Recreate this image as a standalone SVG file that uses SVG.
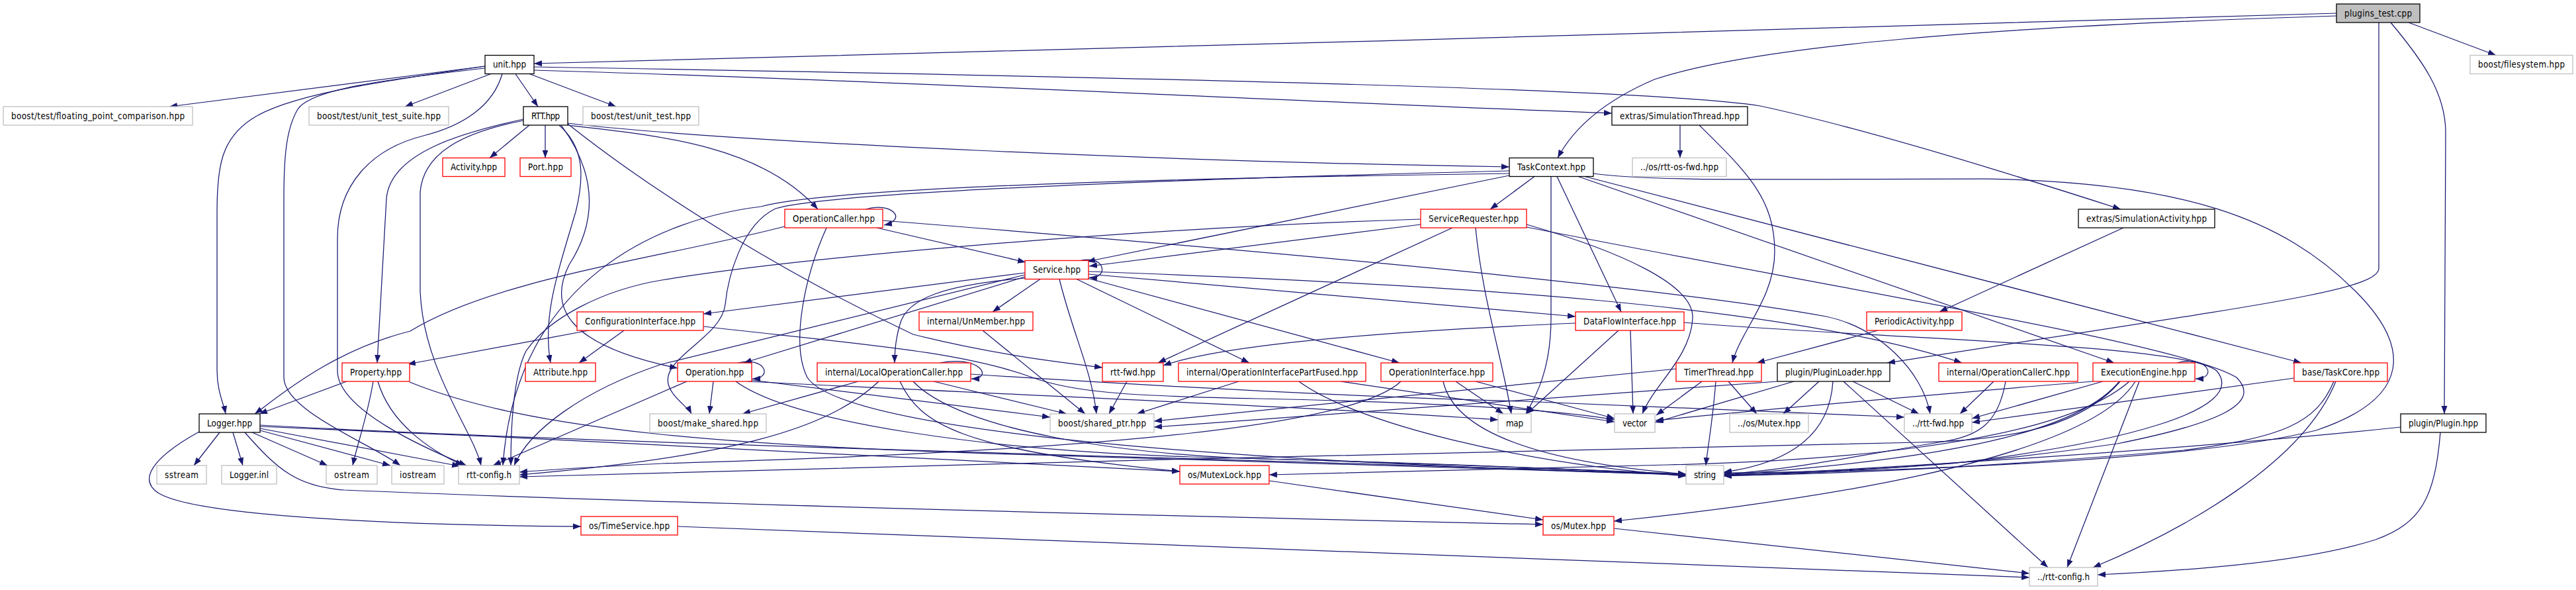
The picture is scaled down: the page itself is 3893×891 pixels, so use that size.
<svg xmlns="http://www.w3.org/2000/svg" width="3893" height="891" viewBox="0 0 3893 891">
<defs>
<marker id="ah" markerUnits="userSpaceOnUse" markerWidth="13" markerHeight="10" refX="12" refY="5" orient="auto"><path d="M0,0.5 L12,5 L0,9.5 z" fill="#191970"/></marker>
<style>
.e{fill:none;stroke:#191970;stroke-width:1.25;marker-end:url(#ah)}
rect{fill:#fff;stroke-width:1.3}
.root{fill:#bfbfbf;stroke:#000}
.doc{stroke:#000}
.tr{stroke:#ff0000}
.ex{stroke:#bfbfbf}
text{font-family:'DejaVu Sans Condensed','DejaVu Sans','Liberation Sans',sans-serif;font-stretch:condensed;font-size:13.3px;text-anchor:middle;fill:#000}
</style>
</defs>
<rect x="0" y="0" width="3893" height="891" style="fill:#fff;stroke:none"/>
<g id="connectors">
<path class="e" d="M3531,20 C3000,35 1500,80 807,96"/>
<path class="e" d="M3531,24 C3000,40 2650,70 2500,120 C2430,150 2380,190 2354,238.5"/>
<path class="e" d="M3640,34 L3772,83.5"/>
<path class="e" d="M3595,34 L3595,405 C3595,440 3400,462 2852,548"/>
<path class="e" d="M3613,34 C3660,90 3696,140 3696,200 L3694,625"/>
<path class="e" d="M733,100 L256,161"/>
<path class="e" d="M742,111.5 L612,161"/>
<path class="e" d="M779,111.5 L813,161"/>
<path class="e" d="M800,111.5 L931,161"/>
<path class="e" d="M807,106 C1300,120 2000,155 2436,171"/>
<path class="e" d="M807,101 C1800,118 2500,135 2660,160 C2800,190 3000,250 3205,316"/>
<path class="e" d="M733,100 C600,120 440,140 380,180 C335,210 328,250 328,320 L328,560 C328,590 338,610 341,625"/>
<path class="e" d="M733,103 C580,120 470,135 450,165 C432,195 429,240 429,300 L429,570 C429,620 560,670 605,703"/>
<path class="e" d="M759,111.5 C745,160 700,190 640,205 C560,225 510,280 510,360 L510,560 C510,620 650,680 705,703"/>
<path class="e" d="M800,189 L740,238.5"/>
<path class="e" d="M824,189 L824,238.5"/>
<path class="e" d="M791,180 C700,200 590,230 584,300 L570,548"/>
<path class="e" d="M791,182 C700,200 640,230 635,290 L635,440 C640,560 715,650 727,703"/>
<path class="e" d="M845,189 C880,220 885,260 870,320 C840,420 820,480 832,548"/>
<path class="e" d="M848,189 C900,260 905,330 860,400 C830,460 850,520 1024,556"/>
<path class="e" d="M858,187 C1000,300 1200,420 1380,505 C1500,535 1600,547 1666,555"/>
<path class="e" d="M858,186 C1100,215 1800,245 2281,252"/>
<path class="e" d="M858,189 C1000,205 1150,220 1236,316"/>
<path class="e" d="M2539,189 L2539,238.5"/>
<path class="e" d="M2568,189 C2640,260 2682,300 2682,380 C2682,450 2630,500 2618,548"/>
<path class="e" d="M2319,266.5 L2252,316"/>
<path class="e" d="M2281,265 L1643,395"/>
<path class="e" d="M2281,258 C1800,270 1250,290 1172,315 C1120,340 1100,420 1096,460 C1090,510 1000,540 1010,580 C1015,600 1040,615 1045,625"/>
<path class="e" d="M2281,262 C1700,270 1250,285 1150,312 C1000,330 780,420 760,703"/>
<path class="e" d="M2344,266.5 L2344,480 C2344,560 2320,600 2306,625"/>
<path class="e" d="M2353,266.5 L2450,471"/>
<path class="e" d="M2408,262 C2500,275 2700,270 3000,270 C3300,275 3450,330 3560,440 C3640,520 3650,600 3500,650 C3300,700 2800,712 2605,717"/>
<path class="e" d="M2395,266.5 L3478,548"/>
<path class="e" d="M2385,266.5 L3195,548"/>
<path class="e" d="M2147,339 L1646,402"/>
<path class="e" d="M2147,331 C1700,345 1200,390 1000,423 C910,438 830,480 795,530 C775,570 772,650 772,703"/>
<path class="e" d="M2195,344 L1750,548"/>
<path class="e" d="M2230,344 C2240,450 2270,540 2284,625"/>
<path class="e" d="M2307,339 C2450,380 2560,430 2558,480 C2555,540 2500,580 2482,625"/>
<path class="e" d="M2307,343 C2800,440 3300,520 3380,570 C3420,610 3350,640 3200,670 C3000,700 2800,714 2605,714"/>
<path class="e" d="M1308,316 C1348,304 1372,332 1336,340"/>
<path class="e" d="M1325,344 L1550,396"/>
<path class="e" d="M1186,342 C1000,390 750,420 620,500 C500,530 420,600 385,625"/>
<path class="e" d="M1249,344 C1215,420 1195,520 1220,570 C1260,630 1600,690 2548,717"/>
<path class="e" d="M1334,333 C1800,370 2500,430 2760,478 C2840,495 2905,560 2917,625"/>
<path class="e" d="M1630,394 C1672,383 1676,422 1646,419"/>
<path class="e" d="M1549,412 L1063,474"/>
<path class="e" d="M1549,415 L1000,550 C880,590 800,650 777,703"/>
<path class="e" d="M1549,418 L1124,548"/>
<path class="e" d="M1549,420 C1430,430 1370,450 1360,490 C1354,510 1352,530 1352,548"/>
<path class="e" d="M1572,421.5 L1500,471"/>
<path class="e" d="M1601,421.5 C1620,500 1650,560 1657,625"/>
<path class="e" d="M1627,421.5 L1888,548"/>
<path class="e" d="M1643,420 L2115,548"/>
<path class="e" d="M1645,414 L2381,478"/>
<path class="e" d="M1645,410 C2200,430 2700,460 2965,548"/>
<path class="e" d="M890,499 L616,550"/>
<path class="e" d="M943,499 L875,548"/>
<path class="e" d="M1063,493 C1300,520 1450,530 1560,570 C1620,592 1700,598 1900,602 C2150,607 2350,618 2440,634"/>
<path class="e" d="M1485,499 L1640,625"/>
<path class="e" d="M2381,488 C2100,500 1850,520 1758,552"/>
<path class="e" d="M2446,499 L2307,625"/>
<path class="e" d="M2464,499 L2468,625"/>
<path class="e" d="M2545,487 C2900,515 3300,520 3350,560 C3400,620 3200,670 2950,700 C2800,712 2700,716 2605,719"/>
<path class="e" d="M2838,499 L2655,548"/>
<path class="e" d="M524,576 L392,625"/>
<path class="e" d="M564,576 C555,630 540,670 533,703"/>
<path class="e" d="M571,576 C590,640 650,680 700,703"/>
<path class="e" d="M619,577 C800,650 1100,675 1600,688 C2000,698 2400,712 2548,717"/>
<path class="e" d="M1115,548 C1158,538 1168,572 1137,572"/>
<path class="e" d="M1078,576 L1072,625"/>
<path class="e" d="M1038,576 L745,703"/>
<path class="e" d="M1136,574 L1587,630"/>
<path class="e" d="M1112,576 C1200,640 1500,680 1800,690 C2200,700 2450,712 2548,717"/>
<path class="e" d="M1130,576 C1500,595 2000,615 2264,634"/>
<path class="e" d="M1420,548 C1482,536 1502,572 1468,572"/>
<path class="e" d="M1297,576 L1122,625"/>
<path class="e" d="M1328,576 C1250,650 1100,690 785,717"/>
<path class="e" d="M1411,576 L1612,625"/>
<path class="e" d="M1360,576 C1390,640 1450,680 1783,712"/>
<path class="e" d="M1380,576 C1450,650 1700,690 1950,694 C2250,703 2450,712 2548,716"/>
<path class="e" d="M1467,565 C1700,580 2000,598 2300,606 L2878,630"/>
<path class="e" d="M1703,576 L1676,625"/>
<path class="e" d="M1872,576 L1718,625"/>
<path class="e" d="M1963,576 C2050,640 2300,700 2548,719"/>
<path class="e" d="M2026,576 L2440,637"/>
<path class="e" d="M2200,576 L2272,625"/>
<path class="e" d="M2230,576 L2440,632"/>
<path class="e" d="M2181,576 C2200,660 2350,700 2548,716"/>
<path class="e" d="M2117,576 C2050,640 1700,680 1000,700 C900,705 820,710 785,713"/>
<path class="e" d="M2533,557 L1744,636"/>
<path class="e" d="M2572,576 L2503,627"/>
<path class="e" d="M2593,576 C2588,640 2580,680 2578,703"/>
<path class="e" d="M2612,576 L2655,625"/>
<path class="e" d="M2686,576 L1744,645"/>
<path class="e" d="M2711,576 L2501,638"/>
<path class="e" d="M2749,576 L2695,625"/>
<path class="e" d="M2770,576 C2765,660 2700,700 2605,713"/>
<path class="e" d="M2800,576 L2900,625"/>
<path class="e" d="M2786,576 L3095,857"/>
<path class="e" d="M3013,576 L2962,625"/>
<path class="e" d="M3031,576 C3020,640 2990,660 2930,668 C2800,690 2700,710 2605,716"/>
<path class="e" d="M3290,548 C3338,536 3352,572 3318,572"/>
<path class="e" d="M3178,576 L2980,632"/>
<path class="e" d="M3163,576 C3050,585 2700,615 2502,635"/>
<path class="e" d="M3203,576 C3150,640 3000,690 2605,717"/>
<path class="e" d="M3218,576 C3100,680 2700,698 2520,702 L1918,717"/>
<path class="e" d="M3227,576 C3150,700 2700,760 2439,787"/>
<path class="e" d="M3204,576 C3150,640 3050,665 2900,668 C2600,672 1300,705 785,720"/>
<path class="e" d="M3233,576 L3124,857"/>
<path class="e" d="M3467,571 L2980,638"/>
<path class="e" d="M3527,576 C3500,640 3450,660 3300,680 C3000,705 2800,716 2605,718"/>
<path class="e" d="M3530,576 C3480,700 3300,800 3163,857"/>
<path class="e" d="M3628,645 C3300,680 2800,710 2605,718"/>
<path class="e" d="M3688,653 C3680,750 3660,790 3590,815 C3480,850 3300,862 3170,868"/>
<path class="e" d="M332,653 L293,703"/>
<path class="e" d="M352,653 L367,703"/>
<path class="e" d="M381,653 L495,703"/>
<path class="e" d="M393,650 L590,703"/>
<path class="e" d="M393,647 L695,704"/>
<path class="e" d="M301,652 C250,680 200,720 240,745 C300,780 600,793 878,795"/>
<path class="e" d="M370,653 C420,710 450,735 520,740 C1000,760 1800,780 2332,792"/>
<path class="e" d="M393,642 C1000,675 2000,695 2548,717"/>
<path class="e" d="M393,644 C900,665 1500,695 1783,712"/>
<path class="e" d="M1024,795 L3067,872"/>
<path class="e" d="M2439,798 L3067,866"/>
<path class="e" d="M1918,726 L2332,785"/>
<path class="e" d="M3209,344 L2931,471"/>
</g>
<g id="n-plugins_test"><rect class="root" x="3531" y="6" width="126" height="28"/><text x="3594" y="24.5" textLength="102">plugins_test.cpp</text></g>
<g id="n-unit"><rect class="doc" x="733" y="83.5" width="74" height="28"/><text x="770" y="102" textLength="50">unit.hpp</text></g>
<g id="n-filesystem"><rect class="ex" x="3733" y="83.5" width="155" height="28"/><text x="3810.5" y="102" textLength="131">boost/filesystem.hpp</text></g>
<g id="n-floating"><rect class="ex" x="5" y="161" width="286" height="28"/><text x="148" y="179.5" textLength="262">boost/test/floating_point_comparison.hpp</text></g>
<g id="n-suite"><rect class="ex" x="467" y="161" width="211" height="28"/><text x="572.5" y="179.5" textLength="187">boost/test/unit_test_suite.hpp</text></g>
<g id="n-rtt"><rect class="doc" x="791" y="161" width="67" height="28"/><text x="824.5" y="179.5" textLength="43">RTT.hpp</text></g>
<g id="n-unit_test"><rect class="ex" x="881" y="161" width="175" height="28"/><text x="968.5" y="179.5" textLength="151">boost/test/unit_test.hpp</text></g>
<g id="n-simthread"><rect class="doc" x="2436" y="161" width="205" height="28"/><text x="2538.5" y="179.5" textLength="181">extras/SimulationThread.hpp</text></g>
<g id="n-activity"><rect class="tr" x="669" y="238.5" width="94" height="28"/><text x="716" y="257" textLength="70">Activity.hpp</text></g>
<g id="n-port"><rect class="tr" x="786" y="238.5" width="77" height="28"/><text x="824.5" y="257" textLength="53">Port.hpp</text></g>
<g id="n-taskcontext"><rect class="doc" x="2281" y="238.5" width="127" height="28"/><text x="2344.5" y="257" textLength="103">TaskContext.hpp</text></g>
<g id="n-osfwd"><rect class="ex" x="2467" y="238.5" width="142" height="28"/><text x="2538" y="257" textLength="118">../os/rtt-os-fwd.hpp</text></g>
<g id="n-operationcaller"><rect class="tr" x="1186" y="316" width="148" height="28"/><text x="1260" y="334.5" textLength="124">OperationCaller.hpp</text></g>
<g id="n-servicerequester"><rect class="tr" x="2147" y="316" width="160" height="28"/><text x="2227" y="334.5" textLength="136">ServiceRequester.hpp</text></g>
<g id="n-simactivity"><rect class="doc" x="3141" y="316" width="206" height="28"/><text x="3244" y="334.5" textLength="182">extras/SimulationActivity.hpp</text></g>
<g id="n-service"><rect class="tr" x="1549" y="393.5" width="96" height="28"/><text x="1597" y="412" textLength="72">Service.hpp</text></g>
<g id="n-configiface"><rect class="tr" x="872" y="471" width="191" height="28"/><text x="967.5" y="489.5" textLength="167">ConfigurationInterface.hpp</text></g>
<g id="n-unmember"><rect class="tr" x="1389" y="471" width="172" height="28"/><text x="1475" y="489.5" textLength="148">internal/UnMember.hpp</text></g>
<g id="n-dataflow"><rect class="tr" x="2381" y="471" width="164" height="28"/><text x="2463" y="489.5" textLength="140">DataFlowInterface.hpp</text></g>
<g id="n-periodic"><rect class="tr" x="2821" y="471" width="144" height="28"/><text x="2893" y="489.5" textLength="120">PeriodicActivity.hpp</text></g>
<g id="n-property"><rect class="tr" x="517" y="548" width="102" height="28"/><text x="568" y="566.5" textLength="78">Property.hpp</text></g>
<g id="n-attribute"><rect class="tr" x="794" y="548" width="106" height="28"/><text x="847" y="566.5" textLength="82">Attribute.hpp</text></g>
<g id="n-operation"><rect class="tr" x="1024" y="548" width="112" height="28"/><text x="1080" y="566.5" textLength="88">Operation.hpp</text></g>
<g id="n-localopcaller"><rect class="tr" x="1235" y="548" width="232" height="28"/><text x="1351" y="566.5" textLength="208">internal/LocalOperationCaller.hpp</text></g>
<g id="n-rttfwd"><rect class="tr" x="1666" y="548" width="92" height="28"/><text x="1712" y="566.5" textLength="68">rtt-fwd.hpp</text></g>
<g id="n-partfused"><rect class="tr" x="1781" y="548" width="283" height="28"/><text x="1922.5" y="566.5" textLength="259">internal/OperationInterfacePartFused.hpp</text></g>
<g id="n-opiface"><rect class="tr" x="2087" y="548" width="169" height="28"/><text x="2171.5" y="566.5" textLength="145">OperationInterface.hpp</text></g>
<g id="n-timerthread"><rect class="tr" x="2533" y="548" width="129" height="28"/><text x="2597.5" y="566.5" textLength="105">TimerThread.hpp</text></g>
<g id="n-pluginloader"><rect class="doc" x="2686" y="548" width="170" height="28"/><text x="2771" y="566.5" textLength="146">plugin/PluginLoader.hpp</text></g>
<g id="n-opcallerc"><rect class="tr" x="2930" y="548" width="210" height="28"/><text x="3035" y="566.5" textLength="186">internal/OperationCallerC.hpp</text></g>
<g id="n-execengine"><rect class="tr" x="3163" y="548" width="154" height="28"/><text x="3240" y="566.5" textLength="130">ExecutionEngine.hpp</text></g>
<g id="n-taskcore"><rect class="tr" x="3467" y="548" width="141" height="28"/><text x="3537.5" y="566.5" textLength="117">base/TaskCore.hpp</text></g>
<g id="n-logger"><rect class="doc" x="301" y="625" width="92" height="28"/><text x="347" y="643.5" textLength="68">Logger.hpp</text></g>
<g id="n-make_shared"><rect class="ex" x="982" y="625" width="176" height="28"/><text x="1070" y="643.5" textLength="152">boost/make_shared.hpp</text></g>
<g id="n-shared_ptr"><rect class="ex" x="1587" y="625" width="157" height="28"/><text x="1665.5" y="643.5" textLength="133">boost/shared_ptr.hpp</text></g>
<g id="n-map"><rect class="ex" x="2264" y="625" width="50" height="28"/><text x="2289" y="643.5" textLength="26">map</text></g>
<g id="n-vector"><rect class="ex" x="2440" y="625" width="61" height="28"/><text x="2470.5" y="643.5" textLength="37">vector</text></g>
<g id="n-osmutex-rel"><rect class="ex" x="2614" y="625" width="119" height="28"/><text x="2673.5" y="643.5" textLength="95">../os/Mutex.hpp</text></g>
<g id="n-rttfwd-rel"><rect class="ex" x="2878" y="625" width="102" height="28"/><text x="2929" y="643.5" textLength="78">../rtt-fwd.hpp</text></g>
<g id="n-plugin"><rect class="doc" x="3628" y="625" width="129" height="28"/><text x="3692.5" y="643.5" textLength="105">plugin/Plugin.hpp</text></g>
<g id="n-sstream"><rect class="ex" x="237" y="703" width="75" height="28"/><text x="274.5" y="721.5" textLength="51">sstream</text></g>
<g id="n-loggerinl"><rect class="ex" x="335" y="703" width="83" height="28"/><text x="376.5" y="721.5" textLength="59">Logger.inl</text></g>
<g id="n-ostream"><rect class="ex" x="493" y="703" width="77" height="28"/><text x="531.5" y="721.5" textLength="53">ostream</text></g>
<g id="n-iostream"><rect class="ex" x="592" y="703" width="79" height="28"/><text x="631.5" y="721.5" textLength="55">iostream</text></g>
<g id="n-rttconfig"><rect class="ex" x="693" y="703" width="92" height="28"/><text x="739" y="721.5" textLength="68">rtt-config.h</text></g>
<g id="n-mutexlock"><rect class="tr" x="1783" y="703" width="135" height="28"/><text x="1850.5" y="721.5" textLength="111">os/MutexLock.hpp</text></g>
<g id="n-string"><rect class="ex" x="2548" y="703" width="57" height="28"/><text x="2576.5" y="721.5" textLength="33">string</text></g>
<g id="n-timeservice"><rect class="tr" x="878" y="780" width="146" height="28"/><text x="951" y="798.5" textLength="122">os/TimeService.hpp</text></g>
<g id="n-osmutex"><rect class="tr" x="2332" y="780" width="107" height="28"/><text x="2385.5" y="798.5" textLength="83">os/Mutex.hpp</text></g>
<g id="n-rttconfig-rel"><rect class="ex" x="3067" y="857" width="103" height="28"/><text x="3118.5" y="875.5" textLength="79">../rtt-config.h</text></g>
</svg>
